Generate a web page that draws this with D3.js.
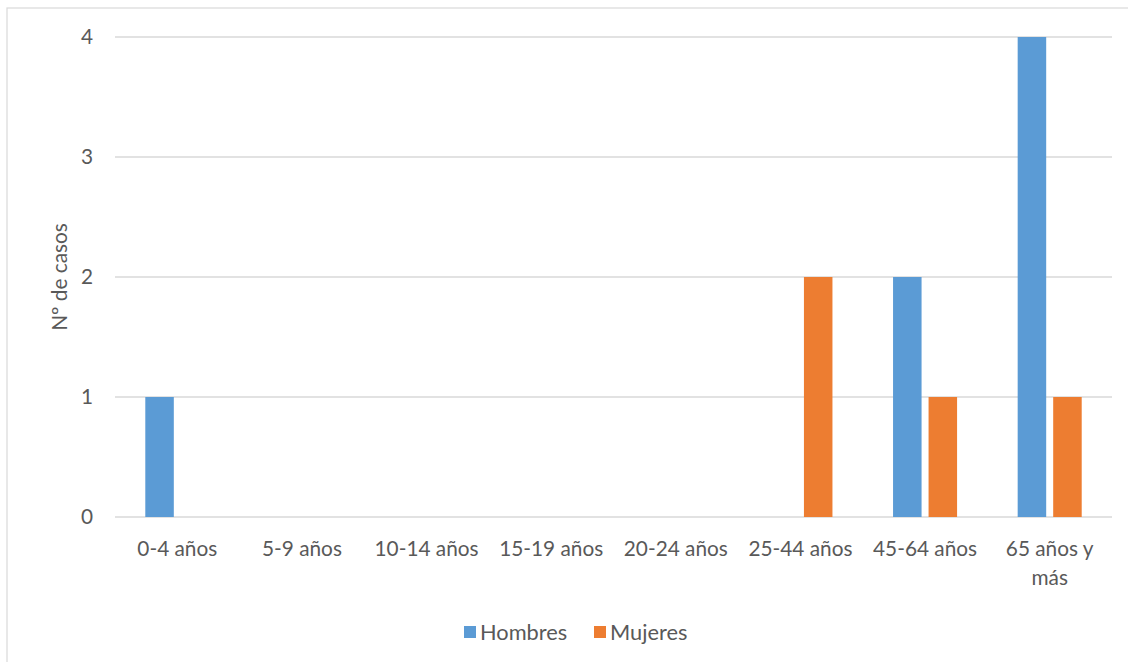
<!DOCTYPE html>
<html><head><meta charset="utf-8">
<script src="https://cdn.jsdelivr.net/npm/d3@7"></script>
<style>body{margin:0;background:#fff;} svg{display:block;font-family:Lato,"Open Sans",sans-serif;}</style>
</head><body>
<svg id="c" width="1128" height="662"></svg>
<script>
const categories = ["0-4 años","5-9 años","10-14 años","15-19 años","20-24 años","25-44 años","45-64 años","65 años y más"];
const seriesNames = ["Hombres","Mujeres"];
const hombres = [1,0,0,0,0,0,2,4];
const mujeres = [0,0,0,0,0,2,1,1];
const yTicks = [0,1,2,3,4];
const colors = ["#5B9BD5","#ED7D31"];
const FS = 20.8;

const svg = d3.select("#c");
svg.append("rect").attr("x",7).attr("y",8).attr("width",1130).attr("height",670)
  .attr("fill","none").attr("stroke","#d9d9d9").attr("stroke-width",1.2);

const L=115,R=1112,T=37,B=517;
const x0 = d3.scaleBand().domain(categories).range([L,R]).paddingInner(0).paddingOuter(0);
const x1 = d3.scaleBand().domain(seriesNames).range([0,x0.bandwidth()]).paddingInner(0.197).paddingOuter(0.853);
const y = d3.scaleLinear().domain([0,4]).range([B,T]);

svg.append("g").selectAll("line").data(yTicks).join("line")
  .attr("x1",L).attr("x2",R).attr("y1",d=>y(d)).attr("y2",d=>y(d))
  .attr("stroke","#d9d9d9").attr("stroke-width",1.5);

svg.append("g").selectAll("text").data(yTicks).join("text")
  .attr("x",93).attr("y",d=>y(d)).attr("dy","0.35em").attr("text-anchor","end")
  .attr("font-size",FS).attr("fill","#595959").text(d=>d);

svg.append("text").attr("transform","translate(67,277) rotate(-90)")
  .attr("text-anchor","middle").attr("font-size",FS).attr("fill","#595959").text("Nº de casos");

const data = categories.map((c,i)=>({c, vals:[hombres[i],mujeres[i]]}));
const g = svg.append("g").selectAll("g").data(data).join("g")
  .attr("transform",d=>`translate(${x0(d.c)},0)`);
g.selectAll("rect").data(d=>d.vals.map((v,j)=>({s:seriesNames[j],v,j}))).join("rect")
  .filter(d=>d.v>0)
  .attr("x",d=>x1(d.s)).attr("width",x1.bandwidth())
  .attr("y",d=>y(d.v)).attr("height",d=>y(0)-y(d.v))
  .attr("fill",d=>colors[d.j]);

const xl = svg.append("g").selectAll("text").data(categories).join("text")
  .attr("x",d=>x0(d)+x0.bandwidth()/2).attr("y",556).attr("text-anchor","middle")
  .attr("font-size",FS).attr("fill","#595959");
xl.each(function(d){
  const t=d3.select(this);
  if(d==="65 años y más"){
    t.append("tspan").attr("x",x0(d)+x0.bandwidth()/2).text("65 años y");
    t.append("tspan").attr("x",x0(d)+x0.bandwidth()/2).attr("dy",29).text("más");
  } else t.text(d);
});

const leg = svg.append("g");
const legX=[464,594];
seriesNames.forEach((s,i)=>{
  leg.append("rect").attr("x",legX[i]).attr("y",626).attr("width",12).attr("height",12).attr("fill",colors[i]);
  leg.append("text").attr("x",legX[i]+16).attr("y",632).attr("dy","0.35em")
    .attr("font-size",21.8).attr("fill","#595959").text(s);
});
</script>
</body></html>
